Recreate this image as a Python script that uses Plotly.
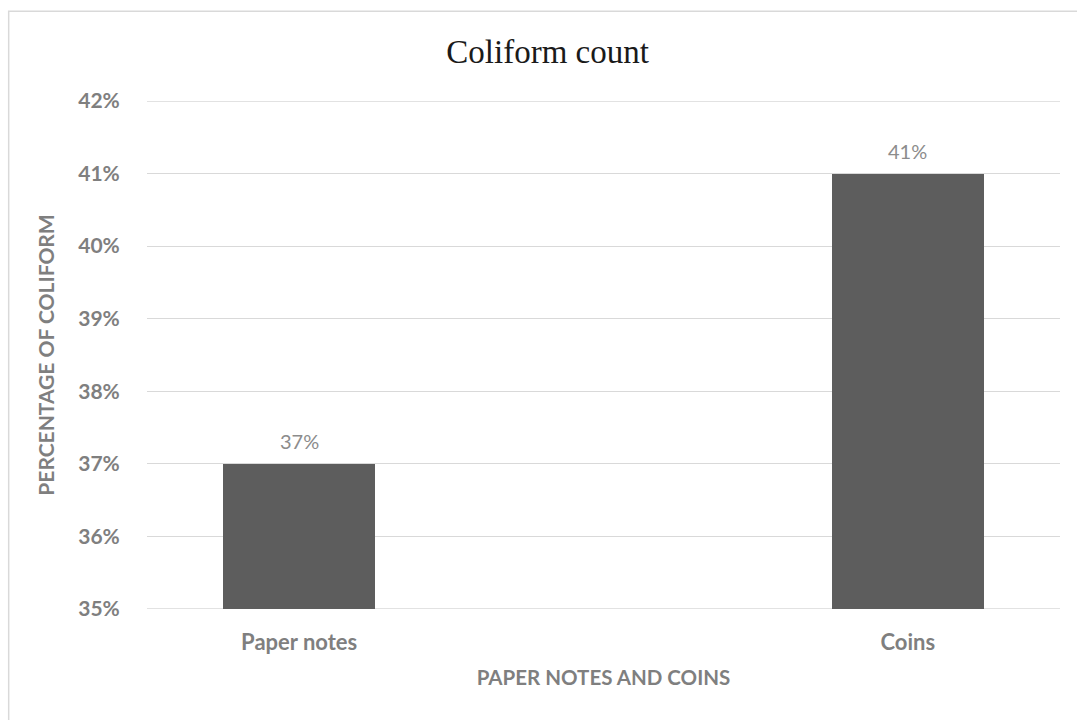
import plotly.graph_objects as go

categories = ["Paper notes", "Coins"]
values = [0.37, 0.41]
value_labels = ["37%", "41%"]
y_ticks = [0.35, 0.36, 0.37, 0.38, 0.39, 0.40, 0.41, 0.42]

label_font = "Lato, 'Open Sans', sans-serif"
gray = "#7f7f7f"
grid_color = "#d9d9d9"

fig = go.Figure()
fig.add_trace(go.Bar(
    x=list(range(len(categories))),
    y=values,
    width=0.25,
    marker=dict(color="#5d5d5d", line=dict(width=0)),
    hoverinfo="skip",
))

for i, (v, t) in enumerate(zip(values, value_labels)):
    fig.add_annotation(
        x=i, y=v, text=t, showarrow=False, yanchor="bottom", yshift=9,
        font=dict(family=label_font, size=20, color="#8c8c8c"),
    )

# gridlines on the top and bottom edges of the plot area
for yv in (y_ticks[0], y_ticks[-1]):
    fig.add_shape(
        type="line", xref="paper", yref="y", x0=0, x1=1, y0=yv, y1=yv,
        line=dict(color=grid_color, width=1.3), layer="below",
    )

# outer chart border
fig.add_shape(
    type="rect", xref="paper", yref="paper",
    x0=-0.1515, x1=1.2, y0=-0.25, y1=1.1765,
    line=dict(color=grid_color, width=1.5), layer="below",
)

fig.update_layout(
    width=1077, height=720,
    margin=dict(l=147, r=17, t=101, b=111),
    paper_bgcolor="white", plot_bgcolor="white",
    showlegend=False,
    bargap=0,
    title=dict(
        text="Coliform count", x=0.5085, xanchor="center", y=0.928, yanchor="middle",
        font=dict(family="'Liberation Serif', 'Times New Roman', serif", size=33, color="#1a1a1a"),
    ),
    xaxis=dict(
        range=[-0.25, 1.25],
        tickmode="array", tickvals=list(range(len(categories))), ticktext=categories,
        showgrid=False, zeroline=False, showline=False,
        ticks="outside", ticklen=14, tickcolor="rgba(0,0,0,0)",
        tickfont=dict(family=label_font, size=22, color=gray, weight="bold"),
        title=dict(text="PAPER NOTES AND COINS", standoff=16,
                   font=dict(family=label_font, size=20.5, color=gray, weight="bold")),
        fixedrange=True,
    ),
    yaxis=dict(
        range=[0.35, 0.42],
        tickmode="array", tickvals=y_ticks, tickformat=".0%",
        showgrid=True, gridcolor=grid_color, gridwidth=1.3,
        zeroline=False, showline=False,
        ticks="outside", ticklen=22, tickcolor="rgba(0,0,0,0)",
        tickfont=dict(family=label_font, size=21, color=gray, weight="bold"),
        title=dict(text="PERCENTAGE OF COLIFORM", standoff=17,
                   font=dict(family=label_font, size=21, color=gray, weight="bold")),
        fixedrange=True,
    ),
)

fig.write_html("out.html")
